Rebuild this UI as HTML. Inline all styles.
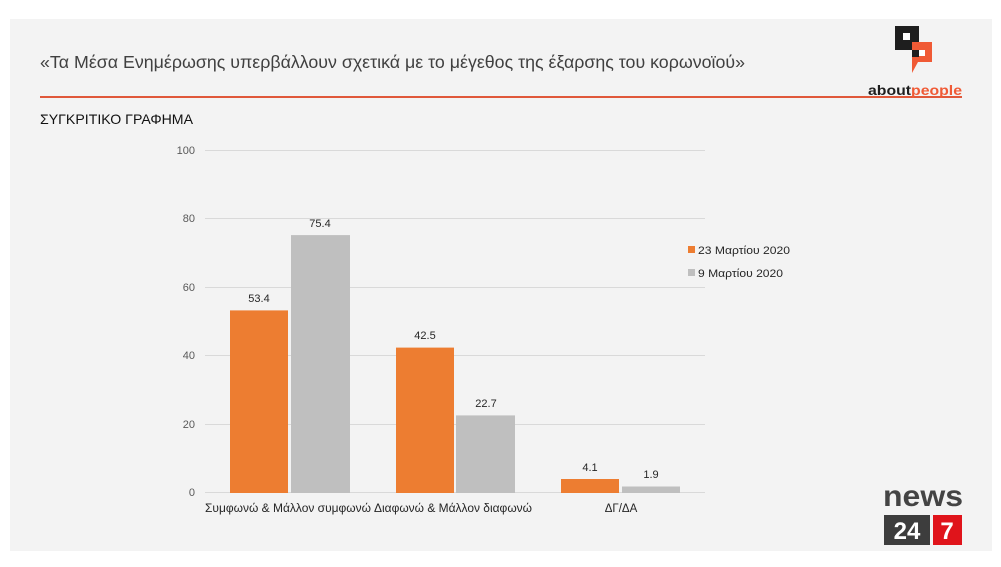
<!DOCTYPE html>
<html><head><meta charset="utf-8"><style>
html,body{margin:0;padding:0;background:#fff;}
body{width:1001px;height:567px;overflow:hidden;position:relative;font-family:"Liberation Sans","DejaVu Sans",sans-serif;}
</style></head><body>
<svg width="1001" height="567" viewBox="0 0 1001 567" xmlns="http://www.w3.org/2000/svg" style="position:absolute;left:0;top:0">
<rect x="10" y="19" width="982" height="532" fill="#f3f3f3"/>
<text x="40" y="68" font-size="17.5" fill="#404040" textLength="705" lengthAdjust="spacingAndGlyphs" font-family="Liberation Sans, DejaVu Sans, sans-serif">«Τα Μέσα Ενημέρωσης υπερβάλλουν σχετικά με το μέγεθος της έξαρσης του κορωνοϊού»</text>
<rect x="40" y="96" width="922" height="2" fill="#e0583a"/>
<text x="40" y="124" font-size="14" fill="#111" textLength="153" lengthAdjust="spacingAndGlyphs" font-family="Liberation Sans, DejaVu Sans, sans-serif">ΣΥΓΚΡΙΤΙΚΟ ΓΡΑΦΗΜΑ</text>
<!-- aboutpeople logo -->
<rect x="895" y="26" width="24" height="24" fill="#1e1e1e"/>
<rect x="903" y="33" width="7" height="7" fill="#fff"/>
<rect x="912" y="42" width="20" height="20" fill="#f05a35"/>
<polygon points="912,62 918,62 912,73" fill="#f05a35"/>
<rect x="912" y="50" width="7" height="7" fill="#1e1e1e"/>
<rect x="919" y="50" width="6" height="6" fill="#fff"/>
<text x="868" y="95" font-size="14" font-weight="bold" fill="#1e1e1e" textLength="94" lengthAdjust="spacingAndGlyphs" font-family="Liberation Sans, sans-serif">about<tspan fill="#f05a35">people</tspan></text>
<!-- grid -->
<g stroke="#d9d9d9" stroke-width="1">
<line x1="205" y1="150.5" x2="705" y2="150.5"/>
<line x1="205" y1="218.5" x2="705" y2="218.5"/>
<line x1="205" y1="287.5" x2="705" y2="287.5"/>
<line x1="205" y1="355.5" x2="705" y2="355.5"/>
<line x1="205" y1="424.5" x2="705" y2="424.5"/>
<line x1="205" y1="492.5" x2="705" y2="492.5"/>
</g>
<g font-size="11" fill="#595959" text-anchor="end" font-family="Liberation Sans, sans-serif">
<text x="195" y="154">100</text><text x="195" y="222">80</text><text x="195" y="291">60</text>
<text x="195" y="359">40</text><text x="195" y="428">20</text><text x="195" y="496">0</text>
</g>
<g>
<rect x="230" y="310.4" width="58" height="182.6" fill="#ed7d31"/>
<rect x="291" y="235.1" width="59" height="257.9" fill="#bfbfbf"/>
<rect x="396" y="347.6" width="58" height="145.4" fill="#ed7d31"/>
<rect x="456" y="415.4" width="59" height="77.6" fill="#bfbfbf"/>
<rect x="561" y="479" width="58" height="14" fill="#ed7d31"/>
<rect x="622" y="486.5" width="58" height="6.5" fill="#bfbfbf"/>
</g>
<g font-size="11" fill="#262626" text-anchor="middle" font-family="Liberation Sans, sans-serif">
<text x="259" y="302">53.4</text><text x="320" y="227">75.4</text>
<text x="425" y="339">42.5</text><text x="486" y="407">22.7</text>
<text x="590" y="471">4.1</text><text x="651" y="478">1.9</text>
</g>
<g font-size="11.5" fill="#262626" font-family="Liberation Sans, sans-serif">
<text x="205" y="512" textLength="166" lengthAdjust="spacingAndGlyphs">Συμφωνώ &amp; Μάλλον συμφωνώ</text>
<text x="374" y="512" textLength="158" lengthAdjust="spacingAndGlyphs">Διαφωνώ &amp; Μάλλον διαφωνώ</text>
<text x="621" y="512" text-anchor="middle">ΔΓ/ΔΑ</text>
</g>
<rect x="688" y="246" width="7" height="7" fill="#ed7d31"/>
<rect x="688" y="269" width="7" height="7" fill="#bfbfbf"/>
<g font-size="11" fill="#262626" font-family="Liberation Sans, sans-serif">
<text x="698" y="254" textLength="92" lengthAdjust="spacingAndGlyphs">23 Μαρτίου 2020</text>
<text x="698" y="277" textLength="85" lengthAdjust="spacingAndGlyphs">9 Μαρτίου 2020</text>
</g>
<!-- news247 logo -->
<text x="883" y="506" font-size="30" font-weight="bold" fill="#444" textLength="80" lengthAdjust="spacingAndGlyphs" font-family="Liberation Sans, sans-serif">news</text>
<rect x="884" y="515" width="46" height="30" fill="#3d3d3d"/>
<rect x="933" y="515" width="29" height="30" fill="#e0141b"/>
<text x="907" y="539" font-size="24" font-weight="bold" fill="#fff" text-anchor="middle" font-family="Liberation Sans, sans-serif">24</text>
<text x="947" y="539" font-size="24" font-weight="bold" fill="#fff" text-anchor="middle" font-family="Liberation Sans, sans-serif">7</text>
</svg>
</body></html>
